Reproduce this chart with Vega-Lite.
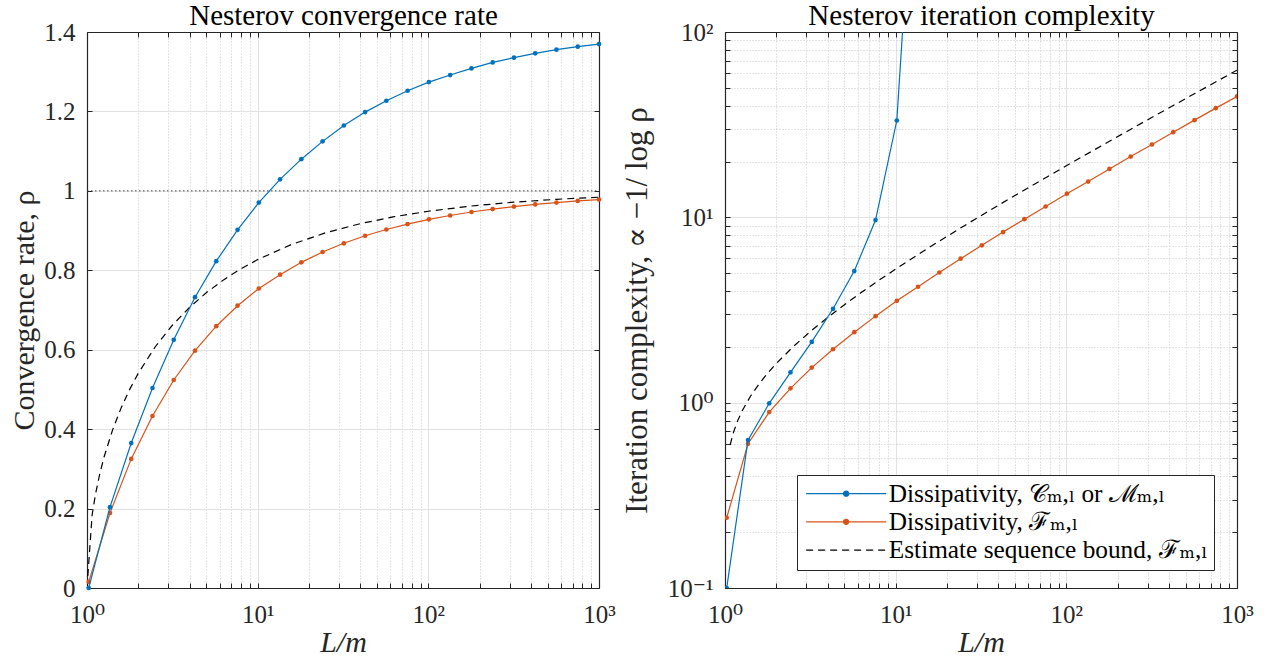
{
  "$schema": "https://vega.github.io/schema/vega-lite/v6.json",
  "autosize": {"type": "none"},
  "padding": {"left": 87, "top": 32, "right": 1180, "bottom": 629},
  "background": "white",
  "config": {
    "view": {"stroke": null},
    "font": "Liberation Serif, Times New Roman, DejaVu Serif, serif",
    "axis": {
      "labelFont": "Liberation Serif, Times New Roman, DejaVu Serif, serif", "titleFont": "Liberation Serif, Times New Roman, DejaVu Serif, serif",
      "labelFontSize": 25, "titleFontSize": 30, "titleFontWeight": "normal",
      "labelColor": "#262626", "titleColor": "#262626",
      "domainColor": "#262626", "domainWidth": 1.2,
      "tickColor": "#262626", "tickWidth": 1, "tickSize": -5,
      "gridColor": "#e2e2e2", "gridWidth": 1,
      "labelOverlap": false, "labelFlush": false, "labelBound": false
    },
    "legend": {"labelFont": "Liberation Serif, Times New Roman, DejaVu Serif, serif"}
  },
  "datasets": {
    "pts": [
      {"series": "A", "x": 1.0233, "rho": 0.00005, "ic": 0.1},
      {"series": "A", "x": 1.3636, "rho": 0.2035, "ic": 0.628},
      {"series": "A", "x": 1.8163, "rho": 0.365, "ic": 0.992},
      {"series": "A", "x": 2.4194, "rho": 0.5036, "ic": 1.458},
      {"series": "A", "x": 3.2233, "rho": 0.625, "ic": 2.128},
      {"series": "A", "x": 4.295, "rho": 0.7323, "ic": 3.21},
      {"series": "A", "x": 5.7214, "rho": 0.823, "ic": 5.13},
      {"series": "A", "x": 7.6232, "rho": 0.9018, "ic": 9.67},
      {"series": "A", "x": 10.155, "rho": 0.9704, "ic": 33.3},
      {"series": "A", "x": 13.529, "rho": 1.029, "ic": 2000},
      {"series": "A", "x": 18.024, "rho": 1.0798, "ic": null},
      {"series": "A", "x": 24.014, "rho": 1.1246, "ic": null},
      {"series": "A", "x": 31.989, "rho": 1.1645, "ic": null},
      {"series": "A", "x": 42.616, "rho": 1.1983, "ic": null},
      {"series": "A", "x": 56.774, "rho": 1.2269, "ic": null},
      {"series": "A", "x": 75.634, "rho": 1.2521, "ic": null},
      {"series": "A", "x": 100.77, "rho": 1.2739, "ic": null},
      {"series": "A", "x": 134.25, "rho": 1.2916, "ic": null},
      {"series": "A", "x": 178.86, "rho": 1.3084, "ic": null},
      {"series": "A", "x": 238.28, "rho": 1.3235, "ic": null},
      {"series": "A", "x": 317.45, "rho": 1.3353, "ic": null},
      {"series": "A", "x": 422.91, "rho": 1.3462, "ic": null},
      {"series": "A", "x": 563.45, "rho": 1.3555, "ic": null},
      {"series": "A", "x": 750.63, "rho": 1.363, "ic": null},
      {"series": "A", "x": 1000, "rho": 1.3697, "ic": null},
      {"series": "B", "x": 1.0233, "rho": 0.01534, "ic": 0.2394},
      {"series": "B", "x": 1.3636, "rho": 0.1889, "ic": 0.6},
      {"series": "B", "x": 1.8163, "rho": 0.3251, "ic": 0.89},
      {"series": "B", "x": 2.4194, "rho": 0.4331, "ic": 1.195},
      {"series": "B", "x": 3.2233, "rho": 0.5237, "ic": 1.546},
      {"series": "B", "x": 4.295, "rho": 0.5976, "ic": 1.942},
      {"series": "B", "x": 5.7214, "rho": 0.6592, "ic": 2.4},
      {"series": "B", "x": 7.6232, "rho": 0.7108, "ic": 2.93},
      {"series": "B", "x": 10.155, "rho": 0.7541, "ic": 3.544},
      {"series": "B", "x": 13.529, "rho": 0.789, "ic": 4.22},
      {"series": "B", "x": 18.024, "rho": 0.82, "ic": 5.04},
      {"series": "B", "x": 24.014, "rho": 0.846, "ic": 5.98},
      {"series": "B", "x": 31.989, "rho": 0.868, "ic": 7.06},
      {"series": "B", "x": 42.616, "rho": 0.8869, "ic": 8.33},
      {"series": "B", "x": 56.774, "rho": 0.9027, "ic": 9.77},
      {"series": "B", "x": 75.634, "rho": 0.9163, "ic": 11.44},
      {"series": "B", "x": 100.77, "rho": 0.9282, "ic": 13.42},
      {"series": "B", "x": 134.25, "rho": 0.9379, "ic": 15.59},
      {"series": "B", "x": 178.86, "rho": 0.9467, "ic": 18.25},
      {"series": "B", "x": 238.28, "rho": 0.9541, "ic": 21.28},
      {"series": "B", "x": 317.45, "rho": 0.9603, "ic": 24.71},
      {"series": "B", "x": 422.91, "rho": 0.9659, "ic": 28.81},
      {"series": "B", "x": 563.45, "rho": 0.9705, "ic": 33.45},
      {"series": "B", "x": 750.63, "rho": 0.9746, "ic": 38.83},
      {"series": "B", "x": 1000, "rho": 0.978, "ic": 44.9}
    ],
    "est": [
      {"series": "C", "x": 1, "rho": 0, "ic": null},
      {"series": "C", "x": 1.0715, "rho": 0.18425, "ic": 0.5912},
      {"series": "C", "x": 1.122, "rho": 0.23652, "ic": 0.6936},
      {"series": "C", "x": 1.1885, "rho": 0.28762, "ic": 0.8025},
      {"series": "C", "x": 1.2589, "rho": 0.32977, "ic": 0.9014},
      {"series": "C", "x": 1.4125, "rho": 0.39825, "ic": 1.0862},
      {"series": "C", "x": 1.5849, "rho": 0.45351, "ic": 1.2646},
      {"series": "C", "x": 1.7783, "rho": 0.50011, "ic": 1.4431},
      {"series": "C", "x": 1.9953, "rho": 0.54042, "ic": 1.6249},
      {"series": "C", "x": 2.5119, "rho": 0.60749, "ic": 2.0063},
      {"series": "C", "x": 3.1623, "rho": 0.66156, "ic": 2.4204},
      {"series": "C", "x": 3.9811, "rho": 0.70627, "ic": 2.8756},
      {"series": "C", "x": 5.0119, "rho": 0.74385, "ic": 3.3794},
      {"series": "C", "x": 6.3096, "rho": 0.77582, "ic": 3.9395},
      {"series": "C", "x": 7.9433, "rho": 0.80324, "ic": 4.5639},
      {"series": "C", "x": 10, "rho": 0.82691, "ic": 5.2613},
      {"series": "C", "x": 15.849, "rho": 0.86534, "ic": 6.9139},
      {"series": "C", "x": 25.119, "rho": 0.89469, "ic": 8.9867},
      {"series": "C", "x": 39.811, "rho": 0.91734, "ic": 11.591},
      {"series": "C", "x": 63.096, "rho": 0.93494, "ic": 14.864},
      {"series": "C", "x": 100, "rho": 0.94868, "ic": 18.982},
      {"series": "C", "x": 177.83, "rho": 0.96178, "ic": 25.657},
      {"series": "C", "x": 316.23, "rho": 0.97148, "ic": 34.555},
      {"series": "C", "x": 562.34, "rho": 0.97869, "ic": 46.42},
      {"series": "C", "x": 1000, "rho": 0.98406, "ic": 62.24}
    ],
    "one": [
      {"x": 1, "rho": 1},
      {"x": 1000, "rho": 1}
    ]
  },
  "bounds": "flush",
  "spacing": 126,
  "resolve": {"scale": {"color": "independent"}},
  "hconcat": [
    {
      "width": 512, "height": 556,
      "resolve": {"axis": {"x": "independent", "y": "independent"}},
      "layer": [
        {
          "data": {"name": "est"},
          "mark": {"type": "line", "color": "#000000", "strokeWidth": 1.2, "strokeDash": [7, 5], "clip": true},
          "encoding": {
            "x": {"field": "x", "type": "quantitative", "scale": {"type": "log", "domain": [1, 1000], "nice": false},
              "axis": {"orient": "bottom", "values": [1, 10, 100, 1000], "labelExpr": "datum.value == 1 ? '10⁰' : datum.value == 10 ? '10¹' : datum.value == 100 ? '10²' : '10³'", "grid": true, "title": "L/m", "titleFontStyle": "italic", "labelPadding": 19, "titlePadding": 0}},
            "y": {"field": "rho", "type": "quantitative", "scale": {"domain": [0, 1.4], "nice": false, "zero": false},
              "axis": {"orient": "left", "values": [0, 0.2, 0.4, 0.6, 0.8, 1, 1.2, 1.4], "format": "~g", "grid": true, "title": "Convergence rate, ρ", "labelPadding": 17, "titlePadding": 4}}
          }
        },
        {
          "data": {"name": "one"},
          "mark": {"type": "line", "color": "#444444", "strokeWidth": 1, "strokeDash": [1.5, 2.5]},
          "encoding": {
            "x": {"field": "x", "type": "quantitative",
              "axis": {"orient": "bottom", "values": [2,3,4,5,6,7,8,9,20,30,40,50,60,70,80,90,200,300,400,500,600,700,800,900], "grid": true, "gridDash": [1, 2], "gridColor": "#c8c8c8", "labels": false, "domain": false, "title": null}},
            "y": {"field": "rho", "type": "quantitative",
              "axis": {"orient": "right", "values": [0, 0.2, 0.4, 0.6, 0.8, 1, 1.2, 1.4], "labels": false, "grid": false, "title": null}}
          }
        },
        {
          "data": {"name": "pts"},
          "transform": [{"filter": "datum.series == 'B'"}],
          "mark": {"type": "line", "color": "#D95319", "strokeWidth": 1.2, "clip": true},
          "encoding": {
            "x": {"field": "x", "type": "quantitative",
              "axis": {"orient": "top", "values": [1, 10, 100, 1000], "labels": false, "grid": false,
                "title": "Nesterov convergence rate", "titleFontSize": 29, "titleColor": "#000000", "titleBaseline": "alphabetic", "titlePadding": 7.5}},
            "y": {"field": "rho", "type": "quantitative", "axis": null}
          }
        },
        {
          "data": {"name": "pts"},
          "transform": [{"filter": "datum.series == 'B'"}],
          "mark": {"type": "point", "filled": true, "color": "#D95319", "size": 22, "opacity": 1},
          "encoding": {
            "x": {"field": "x", "type": "quantitative",
              "axis": {"orient": "top", "values": [2,3,4,5,6,7,8,9,20,30,40,50,60,70,80,90,200,300,400,500,600,700,800,900], "labels": false, "grid": false, "domain": false, "title": null}},
            "y": {"field": "rho", "type": "quantitative", "axis": null}
          }
        },
        {
          "data": {"name": "pts"},
          "transform": [{"filter": "datum.series == 'A'"}],
          "mark": {"type": "line", "color": "#0072BD", "strokeWidth": 1.2, "clip": true},
          "encoding": {
            "x": {"field": "x", "type": "quantitative", "axis": null},
            "y": {"field": "rho", "type": "quantitative", "axis": null}
          }
        },
        {
          "data": {"name": "pts"},
          "transform": [{"filter": "datum.series == 'A'"}],
          "mark": {"type": "point", "filled": true, "color": "#0072BD", "size": 22, "opacity": 1},
          "encoding": {
            "x": {"field": "x", "type": "quantitative", "axis": null},
            "y": {"field": "rho", "type": "quantitative", "axis": null}
          }
        }
      ]
    },
    {
      "width": 512, "height": 556,
      "resolve": {"axis": {"x": "independent", "y": "independent"}},
      "layer": [
        {
          "data": {"name": "est"},
          "mark": {"type": "line", "strokeWidth": 1.2, "strokeDash": [7, 5], "clip": true},
          "encoding": {
            "x": {"field": "x", "type": "quantitative", "scale": {"type": "log", "domain": [1, 1000], "nice": false},
              "axis": {"orient": "bottom", "values": [1, 10, 100, 1000], "labelExpr": "datum.value == 1 ? '10⁰' : datum.value == 10 ? '10¹' : datum.value == 100 ? '10²' : '10³'", "grid": true, "title": "L/m", "titleFontStyle": "italic", "labelPadding": 19, "titlePadding": 0}},
            "y": {"field": "ic", "type": "quantitative", "scale": {"type": "log", "domain": [0.1, 100], "nice": false},
              "axis": {"orient": "left", "values": [0.1, 1, 10, 100], "labelExpr": "datum.value < 0.5 ? '10⁻¹' : datum.value < 5 ? '10⁰' : datum.value < 50 ? '10¹' : '10²'", "grid": true, "title": "Iteration complexity, ∝ −1/ log ρ", "titleFontSize": 31, "labelPadding": 17, "titlePadding": 14}},
            "color": {"field": "series", "type": "nominal",
              "scale": {"domain": ["A", "B", "C"], "range": ["#0072BD", "#D95319", "#000000"]},
              "legend": {
                "title": null, "orient": "none", "legendX": 72, "legendY": 443, "direction": "vertical",
                "padding": 6, "rowPadding": 2.2,
                "strokeColor": "#262626", "fillColor": "#ffffff",
                "symbolSize": 100, "symbolStrokeWidth": 1.2, "symbolOffset": 30.5,
                "labelOffset": 30, "labelFont": "Liberation Serif, Times New Roman, DejaVu Serif, serif", "labelFontSize": 25.3, "labelColor": "#000000", "labelLimit": 0,
                "labelExpr": "datum.value == 'A' ? 'Dissipativity, 𝒞ₘ,ₗ or ℳₘ,ₗ' : datum.value == 'B' ? 'Dissipativity, ℱₘ,ₗ' : 'Estimate sequence bound, ℱₘ,ₗ'",
                "encode": {
                  "symbols": {
                    "update": {
                      "shape": {"signal": "datum.value == 'C' ? 'M-8,0H8' : 'M-8,0H8M0.52,0A0.52,0.52,0,1,1,-0.52,0A0.52,0.52,0,1,1,0.52,0Z'"},
                      "fill": {"signal": "datum.value == 'A' ? '#0072BD' : datum.value == 'B' ? '#D95319' : 'transparent'"},
                      "stroke": {"signal": "datum.value == 'A' ? '#0072BD' : datum.value == 'B' ? '#D95319' : '#000000'"},
                      "strokeDash": {"signal": "datum.value == 'C' ? [7,5] : [1,0]"}
                    }
                  }
                }
              }}
          }
        },
        {
          "data": {"name": "pts"},
          "transform": [{"filter": "datum.series == 'B'"}],
          "mark": {"type": "line", "strokeWidth": 1.2, "clip": true},
          "encoding": {
            "x": {"field": "x", "type": "quantitative",
              "axis": {"orient": "bottom", "values": [2,3,4,5,6,7,8,9,20,30,40,50,60,70,80,90,200,300,400,500,600,700,800,900], "grid": true, "gridDash": [1, 2], "gridColor": "#c8c8c8", "labels": false, "domain": false, "title": null}},
            "y": {"field": "ic", "type": "quantitative",
              "axis": {"orient": "left", "values": [0.2,0.3,0.4,0.5,0.6,0.7,0.8,0.9,2,3,4,5,6,7,8,9,20,30,40,50,60,70,80,90], "grid": true, "gridDash": [1, 2], "gridColor": "#c8c8c8", "labels": false, "domain": false, "title": null}},
            "color": {"field": "series", "type": "nominal"}
          }
        },
        {
          "data": {"name": "pts"},
          "transform": [{"filter": "datum.series == 'B'"}],
          "mark": {"type": "point", "filled": true, "size": 22, "opacity": 1, "clip": true},
          "encoding": {
            "x": {"field": "x", "type": "quantitative",
              "axis": {"orient": "top", "values": [1, 10, 100, 1000], "labels": false, "grid": false,
                "title": "Nesterov iteration complexity", "titleFontSize": 29, "titleColor": "#000000", "titleBaseline": "alphabetic", "titlePadding": 7.5}},
            "y": {"field": "ic", "type": "quantitative",
              "axis": {"orient": "right", "values": [0.1, 1, 10, 100], "labels": false, "grid": false, "title": null}},
            "color": {"field": "series", "type": "nominal"}
          }
        },
        {
          "data": {"name": "pts"},
          "transform": [{"filter": "datum.series == 'A'"}],
          "mark": {"type": "line", "strokeWidth": 1.2, "clip": true},
          "encoding": {
            "x": {"field": "x", "type": "quantitative",
              "axis": {"orient": "top", "values": [2,3,4,5,6,7,8,9,20,30,40,50,60,70,80,90,200,300,400,500,600,700,800,900], "labels": false, "grid": false, "domain": false, "title": null}},
            "y": {"field": "ic", "type": "quantitative",
              "axis": {"orient": "right", "values": [0.2,0.3,0.4,0.5,0.6,0.7,0.8,0.9,2,3,4,5,6,7,8,9,20,30,40,50,60,70,80,90], "labels": false, "grid": false, "domain": false, "title": null}},
            "color": {"field": "series", "type": "nominal"}
          }
        },
        {
          "data": {"name": "pts"},
          "transform": [{"filter": "datum.series == 'A'"}],
          "mark": {"type": "point", "filled": true, "size": 22, "opacity": 1, "clip": true},
          "encoding": {
            "x": {"field": "x", "type": "quantitative", "axis": null},
            "y": {"field": "ic", "type": "quantitative", "axis": null},
            "color": {"field": "series", "type": "nominal"}
          }
        }
      ]
    }
  ]
}
